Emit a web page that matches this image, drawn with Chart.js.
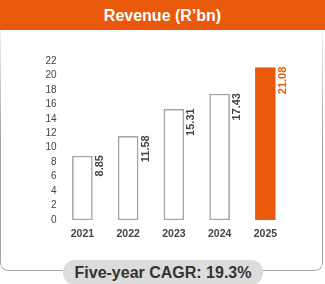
<!DOCTYPE html>
<html>
<head>
<meta charset="utf-8">
<script src="https://cdn.jsdelivr.net/npm/chart.js@4/dist/chart.umd.min.js"></script>
<style>
  html, body { margin: 0; padding: 0; background: #fff; }
  body { width: 325px; height: 284px; position: relative; overflow: hidden; font-family: "Liberation Sans", Arial, sans-serif; }
  #title { position: absolute; left: 0; top: 0; width: 325px; height: 30px; background: #E8590C; color: #fff; font-weight: bold; font-size: 16px; line-height: 31px; text-align: center; }
  #box { position: absolute; left: 0; top: 30px; width: 321px; height: 240px; border: 1.5px solid #a3a3a3; border-top: none; border-radius: 0 0 8px 8px;
         -webkit-mask-image: linear-gradient(to bottom, rgba(0,0,0,0.15) 0%, #000 45%); mask-image: linear-gradient(to bottom, rgba(0,0,0,0.15) 0%, #000 45%); }
  #pill { position: absolute; left: 63px; top: 260px; width: 200px; height: 25px; background: #dcdcdc; border-radius: 12px; color: #333; font-weight: bold; font-size: 16px; line-height: 25px; text-align: center; }
  #wrap { position: absolute; left: 0; top: 0; width: 325px; height: 284px; }
</style>
</head>
<body>
<div id="box"></div>
<div id="title">Revenue (R’bn)</div>
<div id="wrap"><canvas id="c" width="325" height="284"></canvas></div>
<div id="pill">Five-year CAGR: 19.3%</div>
<script>
const categories = ["2021", "2022", "2023", "2024", "2025"];
const revenue = [8.85, 11.58, 15.31, 17.43, 21.08];
const valueLabels = ["8.85", "11.58", "15.31", "17.43", "21.08"];
const yTicks = [0, 2, 4, 6, 8, 10, 12, 14, 16, 18, 20, 22];

const ORANGE = "#E8590C";
const GREY = "#a0a5a8";

const valueLabelPlugin = {
  id: "valueLabels",
  afterDatasetsDraw(chart) {
    const ctx = chart.ctx;
    const meta = chart.getDatasetMeta(0);
    ctx.save();
    ctx.font = "bold 11px 'Liberation Sans', Arial, sans-serif";
    meta.data.forEach((bar, i) => {
      const x = bar.x + bar.width / 2 + 2;
      const y = bar.y - 1;
      ctx.save();
      ctx.translate(x, y);
      ctx.rotate(-Math.PI / 2);
      ctx.textAlign = "right";
      ctx.textBaseline = "top";
      ctx.fillStyle = i === revenue.length - 1 ? ORANGE : "#444";
      ctx.fillText(valueLabels[i], 0, 0);
      ctx.restore();
    });
    ctx.restore();
  }
};

new Chart(document.getElementById("c"), {
  type: "bar",
  data: {
    labels: categories,
    datasets: [{
      data: revenue,
      backgroundColor: revenue.map((v, i) => i === revenue.length - 1 ? ORANGE : "#ffffff"),
      borderColor: revenue.map((v, i) => i === revenue.length - 1 ? ORANGE : GREY),
      borderWidth: 1.5,
      barThickness: 20,
      borderSkipped: false
    }]
  },
  options: {
    responsive: false,
    animation: false,
    devicePixelRatio: 1,
    layout: { padding: { left: 0, right: 36.75, top: 61, bottom: 34 } },
    plugins: { legend: { display: false }, tooltip: { enabled: false }, title: { display: false } },
    scales: {
      x: {
        grid: { display: false, drawTicks: false },
        border: { display: false },
        ticks: { color: "#444", padding: 8, font: { family: "'Liberation Sans', Arial, sans-serif", size: 10.5, weight: "bold" } },
        afterFit(s) { s.height = 30; }
      },
      y: {
        min: 0, max: 22,
        grid: { display: false, drawTicks: false },
        border: { display: false },
        afterBuildTicks(s) { s.ticks = yTicks.map(v => ({ value: v })); },
        ticks: { color: "#444", padding: 3, autoSkip: false, font: { family: "'Liberation Sans', Arial, sans-serif", size: 10 } },
        afterFit(s) { s.width = 59.5; }
      }
    }
  },
  plugins: [valueLabelPlugin]
});
</script>
</body>
</html>
